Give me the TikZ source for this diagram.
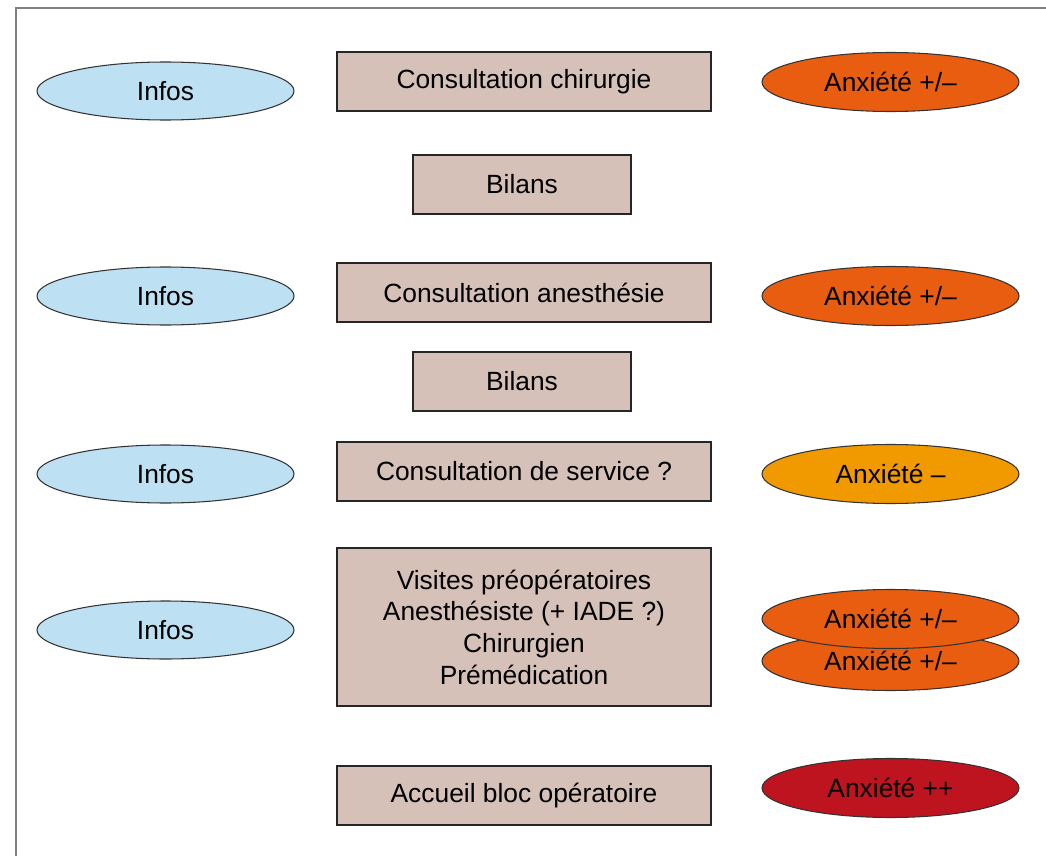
\documentclass[tikz,border=0pt]{standalone}
\usepackage{fontspec}
\setmainfont{Liberation Sans}
\usepackage{xcolor}
\usetikzlibrary{shapes.geometric}

\definecolor{infoblue}{HTML}{BEE0F3}
\definecolor{boxbrown}{HTML}{D6C1B9}
\definecolor{anxorange}{HTML}{E85D0F}
\definecolor{anxyellow}{HTML}{F19A00}
\definecolor{anxred}{HTML}{BD1420}

\begin{document}
\begin{tikzpicture}[
  every node/.style={font=\fontsize{15}{18}\selectfont, text=black},
  infos/.style={ellipse, draw=black!80, line width=0.6pt, fill=infoblue, minimum width=5.14cm, minimum height=1.16cm, inner sep=0pt},
  anx/.style={ellipse, draw=black!80, line width=0.6pt, fill=#1, minimum width=5.14cm, minimum height=1.18cm, inner sep=0pt},
  etape/.style={rectangle, draw=black!85, line width=0.9pt, fill=boxbrown, minimum width=7.48cm, minimum height=1.18cm, inner sep=0pt, align=center},
  bilan/.style={etape, minimum width=4.36cm}
]
\useasboundingbox (0,0) rectangle (20.92,-17.12);
\draw[gray, line width=1.2pt] (0.32,-17.2) -- (0.32,-0.16) -- (21,-0.16);

% colonne du milieu
\node[etape] (chir) at (10.48,-1.63) {Consultation chirurgie};
\node[bilan] (bilan1) at (10.44,-3.69) {Bilans};
\node[etape] (anesth) at (10.48,-5.85) {Consultation anesthésie};
\node[bilan] (bilan2) at (10.44,-7.63) {Bilans};
\node[etape] (service) at (10.48,-9.43) {Consultation de service ?};
\node[etape, minimum height=3.16cm] (visites) at (10.48,-12.54) {Visites préopératoires\\Anesthésiste (+ IADE ?)\\Chirurgien\\Prémédication};
\node[etape] (accueil) at (10.48,-15.91) {Accueil bloc opératoire};

% infos
\node[infos] (info1) at (3.31,-1.82) {Infos};
\node[infos] (info2) at (3.31,-5.92) {Infos};
\node[infos] (info3) at (3.31,-9.48) {Infos};
\node[infos] (info4) at (3.31,-12.60) {Infos};

% anxiete
\node[anx=anxorange] (anx1) at (17.81,-1.64) {Anxiété +/--};
\node[anx=anxorange] (anx2) at (17.81,-5.92) {Anxiété +/--};
\node[anx=anxyellow] (anx3) at (17.81,-9.48) {Anxiété --};
\node[anx=anxorange] (anx5) at (17.81,-13.22) {Anxiété +/--};
\node[anx=anxorange] (anx4) at (17.81,-12.38) {Anxiété +/--};
\node[anx=anxred] (anx6) at (17.81,-15.76) {Anxiété ++};
\end{tikzpicture}
\end{document}
